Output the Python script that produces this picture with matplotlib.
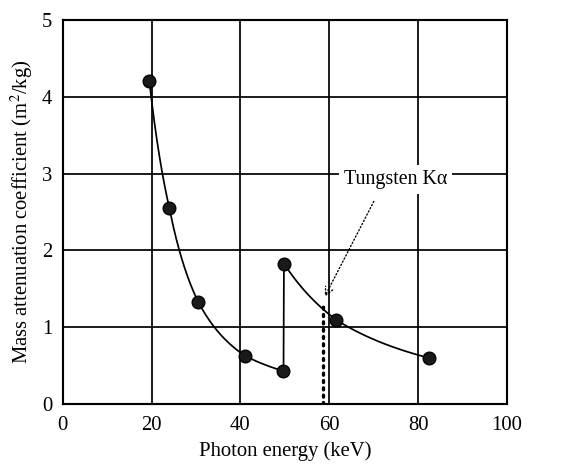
import numpy as np
import matplotlib
matplotlib.use("Agg")
import matplotlib.pyplot as plt

plt.rcParams['font.family'] = ['Liberation Serif', 'DejaVu Serif']
plt.rcParams['mathtext.fontset'] = 'stix'

# Data
energy_low = [19.5, 24.0, 30.5, 41.0, 49.7]
mu_low = [4.2, 2.55, 1.33, 0.63, 0.43]
energy_high = [49.8, 61.5, 82.5]
mu_high = [1.83, 1.1, 0.6]
edge_energy = [49.7, 49.8]
edge_mu = [0.43, 1.83]
kalpha_energy = 58.7
kalpha_top = 1.3
xticks = [0, 20, 40, 60, 80, 100]
yticks = [0, 1, 2, 3, 4, 5]


def loglog_curve(x, y, n=60):
    xs, ys = [], []
    lx, ly = np.log(x), np.log(y)
    for i in range(len(x) - 1):
        t = np.linspace(0, 1, n)
        seg_x = lx[i] + t * (lx[i + 1] - lx[i])
        seg_y = ly[i] + t * (ly[i + 1] - ly[i])
        xs.append(np.exp(seg_x))
        ys.append(np.exp(seg_y))
    return np.concatenate(xs), np.concatenate(ys)


fig = plt.figure(figsize=(6.0, 465 / 96), dpi=96)
ax = fig.add_axes([0.109, 0.131, 0.771, 0.826])

ax.set_xlim(0, 100)
ax.set_ylim(0, 5)
ax.set_xticks(xticks)
ax.set_yticks(yticks)
ax.grid(True, color='black', lw=1.3)
ax.set_axisbelow(True)
for s in ax.spines.values():
    s.set_linewidth(1.6)
ax.tick_params(length=0, labelsize=15.5)
ax.tick_params(axis='x', pad=9)
ax.tick_params(axis='y', pad=8)

cx, cy = loglog_curve(energy_low, mu_low)
ax.plot(cx, cy, color='black', lw=1.3, zorder=3)
cx, cy = loglog_curve(energy_high, mu_high)
ax.plot(cx, cy, color='black', lw=1.3, zorder=3)
ax.plot(edge_energy, edge_mu, color='black', lw=1.3, zorder=3)

ax.plot(energy_low + energy_high, mu_low + mu_high, 'o', ms=9.5,
        mfc='#1a1a1a', mec='black', mew=1, zorder=4, clip_on=False)

ax.plot([kalpha_energy, kalpha_energy], [0, kalpha_top], color='black',
        lw=2.5, ls=(0, (0.6, 1.6)), zorder=3, dash_capstyle='round')

ax.annotate('Tungsten K\u03b1', xy=(59.0, 1.4), xytext=(63.3, 2.92),
            fontsize=15, va='center', ha='left',
            bbox=dict(boxstyle='square,pad=0.25', fc='white', ec='none'),
            arrowprops=dict(arrowstyle='->', lw=1.0, ls=':', color='black',
                            shrinkA=6, shrinkB=0,
                            relpos=(0.35, 0.0)),
            zorder=5)

ax.set_xlabel('Photon energy (keV)', fontsize=15.5, labelpad=5)
ax.set_ylabel('Mass attenuation coefficient (m$^2$/kg)', fontsize=15.5, labelpad=5)

fig.savefig('out.png', dpi=96)
